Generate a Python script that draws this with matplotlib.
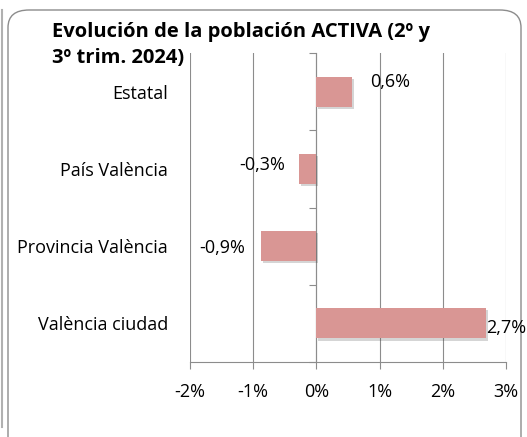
import matplotlib
matplotlib.use("Agg")
import matplotlib.pyplot as plt
import matplotlib.patheffects as pe
from matplotlib.patches import FancyBboxPatch
from matplotlib.lines import Line2D
import numpy as np

# data
categories = ["Estatal", "País València", "Provincia València", "València ciudad"]
values = [0.56, -0.27, -0.87, 2.68]
xticks = [-2, -1, 0, 1, 2, 3]
title = "Evolución de la población ACTIVA (2º y\n3º trim. 2024)"

plt.rcParams['font.family'] = ['Open Sans', 'DejaVu Sans']

W, H = 527, 437
fig = plt.figure(figsize=(W / 100, H / 100), dpi=100)

# chart frame
frame = FancyBboxPatch((8 / W, -20 / H), 513 / W, 447 / H,
                       boxstyle="round,pad=0,rounding_size=0.04",
                       transform=fig.transFigure, fc="white", ec="#8c8c8c", lw=1, zorder=-5)
fig.patches.append(frame)
fig.lines.append(Line2D([1.5 / W, 1.5 / W], [10 / H, 1 - 10 / H], transform=fig.transFigure,
                        color="#b0b0b0", lw=1.5, zorder=-5))

ax = fig.add_axes([190 / W, 1 - 362 / H, 316 / W, 309 / H])
ax.patch.set_alpha(0)

y = np.arange(len(categories))
bars = ax.barh(y, values, height=0.39, color="#D99694", zorder=3)
for b in bars:
    b.set_path_effects([pe.SimplePatchShadow(offset=(1.5, -1.5), alpha=0.22, shadow_rgbFace="#404040"),
                        pe.Normal()])

ax.set_xlim(-2, 3)
ax.set_ylim(len(categories) - 0.5, -0.5)
ax.set_xticks(xticks)
ax.set_xticklabels([f"{t}%" for t in xticks], fontsize=13)
ax.xaxis.grid(True, color="#8c8c8c", lw=0.8, zorder=0)
ax.tick_params(axis="x", length=5, color="#8c8c8c", pad=10)

ax.set_yticks(y)
ax.set_yticklabels(categories, fontsize=13)
ax.tick_params(axis="y", length=0, pad=16)

for s in ["top", "right", "left"]:
    ax.spines[s].set_visible(False)
ax.spines["bottom"].set_color("#8c8c8c")

# category axis crossing at 0
sec = ax.secondary_yaxis(0.4)
sec.set_yticks(np.arange(len(categories) + 1) - 0.5)
sec.set_yticklabels([])
sec.tick_params(length=5, color="#8c8c8c")
sec.spines["left"].set_color("#8c8c8c")

# data labels
offsets = [(13, 7), (-10, 3), (-12, -1), (0, -3)]
for v, yi, (dx, dy) in zip(values, y, offsets):
    lab = f"{v:.1f}%".replace(".", ",")
    ax.annotate(lab, (v, yi), xytext=(dx, dy), textcoords="offset points",
                ha="left" if v > 0 else "right", va="center", fontsize=13, zorder=5)

fig.text(52 / W, 1 - 22 / H, title, fontsize=14.5, fontweight="bold",
         va="top", ha="left", linespacing=1.4)

fig.savefig("out.png", dpi=100)
